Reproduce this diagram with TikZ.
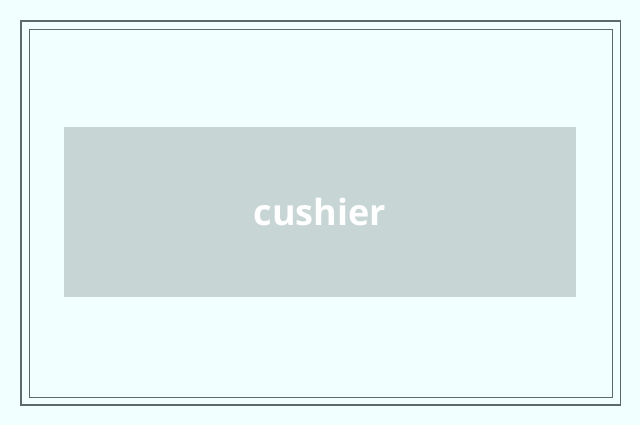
\documentclass[tikz,border=0pt]{standalone}
\usepackage{fontspec}
\setsansfont{Open Sans}
\definecolor{paper}{HTML}{F2FFFF}
\definecolor{frame}{HTML}{5B6B6B}
\definecolor{panel}{HTML}{C8D5D5}
\begin{document}
\begin{tikzpicture}[x=1pt,y=-1pt]
	    % Setup the page:
	    \def\W{640}
	    \def\H{425}
	    \fill [paper] (0,0) rectangle (\W,\H);
	    \useasboundingbox (0,0) rectangle (\W,\H);

	    % Draw the double frame
	    \draw [frame,line width=1.6pt] (21,21) rectangle (620.5,405);
	    \draw [frame,line width=0.9pt] (29.5,29.5) rectangle (612,397);

	    % The panel with its word
	    \node (panel) [fill=panel,inner sep=0pt,minimum width=512pt,minimum height=170pt]
		at (320,212) {};
	    \node (word) [text=white,font=\sffamily\bfseries\fontsize{36}{42}\selectfont]
		at (panel.center) {cushier};
	\end{tikzpicture}
\end{document}
